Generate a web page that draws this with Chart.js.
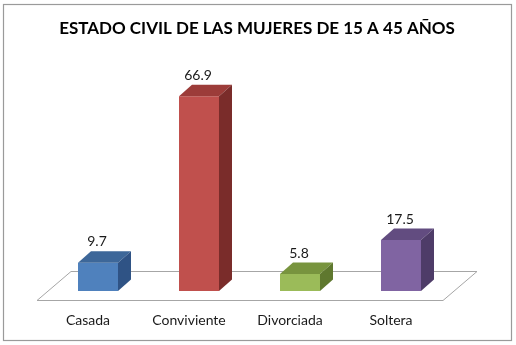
<!DOCTYPE html>
<html>
<head>
<meta charset="utf-8">
<script src="https://cdn.jsdelivr.net/npm/chart.js@4"></script>
<style>
html,body{margin:0;padding:0;background:#fff;}
#wrap{width:516px;height:345px;position:relative;}
</style>
</head>
<body>
<div id="wrap"><canvas id="c" width="516" height="345"></canvas></div>
<script>
const titleText = 'ESTADO CIVIL DE LAS MUJERES DE 15 A 45 AÑOS';
const categories = ['Casada', 'Conviviente', 'Divorciada', 'Soltera'];
const values = [9.7, 66.9, 5.8, 17.5];
const frontColors = ['#4F81BD', '#C0504D', '#9BBB59', '#8064A2'];
const topColors = ['#3D6799', '#9C3C39', '#78943E', '#624C80'];
const sideColors = ['#2F5385', '#7A2C2A', '#5F782F', '#4E3C68'];

const DX = 13, DY = 11.5;

const frame = {
  id: 'frame',
  beforeDraw(chart) {
    const ctx = chart.ctx;
    ctx.save();
    ctx.fillStyle = '#fff';
    ctx.fillRect(0, 0, chart.width, chart.height);
    ctx.strokeStyle = '#9a9a9a';
    ctx.lineWidth = 1.2;
    ctx.strokeRect(3.5, 4.5, 508, 336);
    ctx.fillStyle = '#000';
    ctx.font = 'bold 17px Lato';
    ctx.textAlign = 'center';
    ctx.textBaseline = 'middle';
    ctx.fillText(titleText, 257, 29);
    ctx.restore();
  }
};

const floor = {
  id: 'floor',
  beforeDatasetsDraw(chart) {
    const ctx = chart.ctx, a = chart.chartArea;
    const base = chart.scales.y.getPixelForValue(0);
    ctx.save();
    ctx.strokeStyle = '#a6a6a6';
    ctx.lineWidth = 1;
    ctx.fillStyle = '#fff';
    ctx.beginPath();
    ctx.moveTo(a.left - 10.5, base + 9.5);
    ctx.lineTo(a.left + 23.5, base - 19.5);
    ctx.lineTo(a.right + 25.5, base - 19.5);
    ctx.lineTo(a.right - 8.5, base + 9.5);
    ctx.closePath();
    ctx.fill();
    ctx.stroke();
    ctx.restore();
  }
};

const box3d = {
  id: 'box3d',
  afterDatasetsDraw(chart) {
    const ctx = chart.ctx;
    const meta = chart.getDatasetMeta(0);
    ctx.save();
    meta.data.forEach((bar, i) => {
      const p = bar.getProps(['x', 'y', 'base', 'width'], true);
      const l = p.x - p.width / 2, r = p.x + p.width / 2;
      ctx.fillStyle = topColors[i];
      ctx.beginPath();
      ctx.moveTo(l, p.y);
      ctx.lineTo(l + DX, p.y - DY);
      ctx.lineTo(r + DX, p.y - DY);
      ctx.lineTo(r, p.y);
      ctx.closePath();
      ctx.fill();
      ctx.fillStyle = sideColors[i];
      ctx.beginPath();
      ctx.moveTo(r, p.y);
      ctx.lineTo(r + DX, p.y - DY);
      ctx.lineTo(r + DX, p.base - DY);
      ctx.lineTo(r, p.base);
      ctx.closePath();
      ctx.fill();
      ctx.fillStyle = '#1a1a1a';
      ctx.font = '14px Lato';
      ctx.textAlign = 'center';
      ctx.textBaseline = 'middle';
      ctx.fillText(values[i].toFixed(1), p.x - 1, p.y - 21);
    });
    ctx.restore();
  }
};

new Chart(document.getElementById('c'), {
  type: 'bar',
  data: {
    labels: categories,
    datasets: [{
      data: values,
      backgroundColor: frontColors,
      borderWidth: 0,
      categoryPercentage: 1,
      barPercentage: 0.396
    }]
  },
  options: {
    responsive: false,
    animation: false,
    devicePixelRatio: 1,
    layout: { padding: { left: 47.5, right: 64.5, top: 58, bottom: 0 } },
    plugins: {
      legend: { display: false },
      tooltip: { enabled: false },
      title: { display: false }
    },
    scales: {
      y: { display: false, min: 0, max: 80 },
      x: {
        grid: { display: false, drawTicks: false },
        border: { display: false },
        afterFit(scale) { scale.height = 54; },
        ticks: {
          color: '#1a1a1a',
          font: { family: 'Lato', size: 14 },
          padding: 21,
          labelOffset: -10,
          maxRotation: 0
        }
      }
    }
  },
  plugins: [frame, floor, box3d]
});
</script>
</body>
</html>
